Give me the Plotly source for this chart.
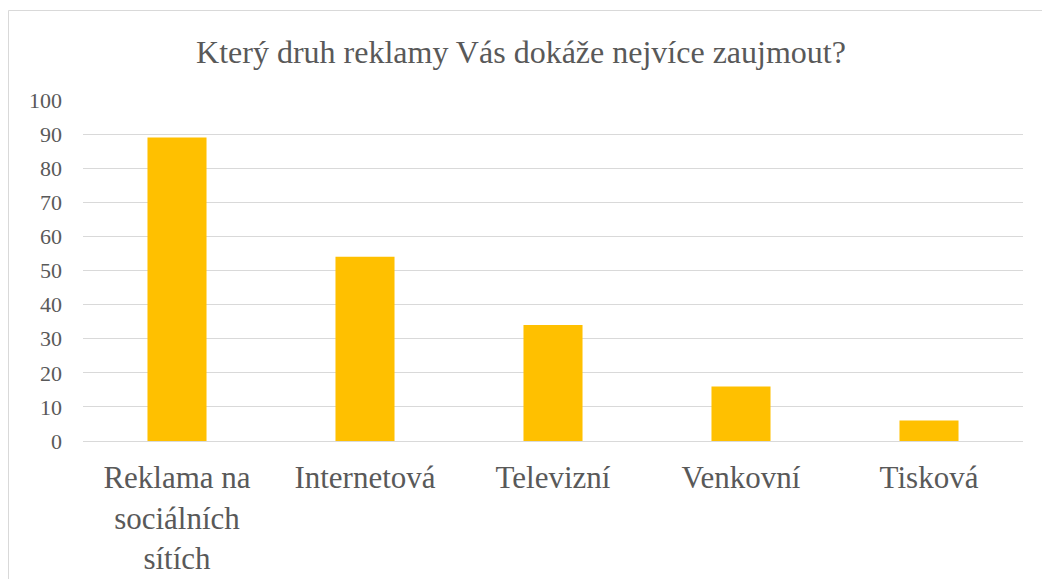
import plotly.graph_objects as go

categories = ["Reklama na<br>sociálních<br>sítích", "Internetová", "Televizní", "Venkovní", "Tisková"]
values = [89, 54, 34, 16, 6]
y_ticks = [0, 10, 20, 30, 40, 50, 60, 70, 80, 90, 100]
title_text = "Který druh reklamy Vás dokáže nejvíce zaujmout?"

W, H = 1042, 579
L, R, T, B = 83, 19, 100, 138
pw, ph = W - L - R, H - T - B

fig = go.Figure(go.Bar(x=categories, y=values, marker=dict(color="#FFC000", line=dict(width=0))))

def px_x(p):
    return (p - L) / pw

def px_y(p):
    return (H - B - p) / ph

fig.update_layout(
    width=W, height=H,
    margin=dict(l=L, r=R, t=T, b=B, autoexpand=False),
    paper_bgcolor="white", plot_bgcolor="white",
    bargap=0.686,
    showlegend=False,
    font=dict(family="Liberation Serif, Times New Roman, serif", color="#595959"),
    title=dict(text=title_text, x=0.5, xanchor="center", y=1 - 52 / H, yanchor="middle",
               font=dict(size=32, color="#595959", family="Liberation Serif, serif")),
    xaxis=dict(showgrid=False, showline=True, linecolor="#D9D9D9", linewidth=1,
               tickfont=dict(size=31, color="#595959"), ticks="", ticklabelstandoff=9,
               fixedrange=True),
    yaxis=dict(range=[0, 100], tickvals=y_ticks, showgrid=True, gridcolor="#D9D9D9", gridwidth=1,
               zeroline=False, showline=False, tickfont=dict(size=22, color="#595959"),
               ticklabelstandoff=20, fixedrange=True),
    shapes=[
        dict(type="line", xref="paper", yref="paper", x0=px_x(8.5), x1=px_x(1045), y0=px_y(10.5), y1=px_y(10.5),
             line=dict(color="#D9D9D9", width=1)),
        dict(type="line", xref="paper", yref="paper", x0=px_x(8.5), x1=px_x(8.5), y0=px_y(10.5), y1=px_y(585),
             line=dict(color="#D9D9D9", width=1)),
    ],
)

fig.write_html("out.html", config={"displayModeBar": False, "staticPlot": True})
with open("out.html", encoding="utf-8") as f:
    html = f.read()
html = html.replace("<head>", "<head><style>html,body{margin:0;padding:0;overflow:hidden;}</style>", 1)
with open("out.html", "w", encoding="utf-8") as f:
    f.write(html)
